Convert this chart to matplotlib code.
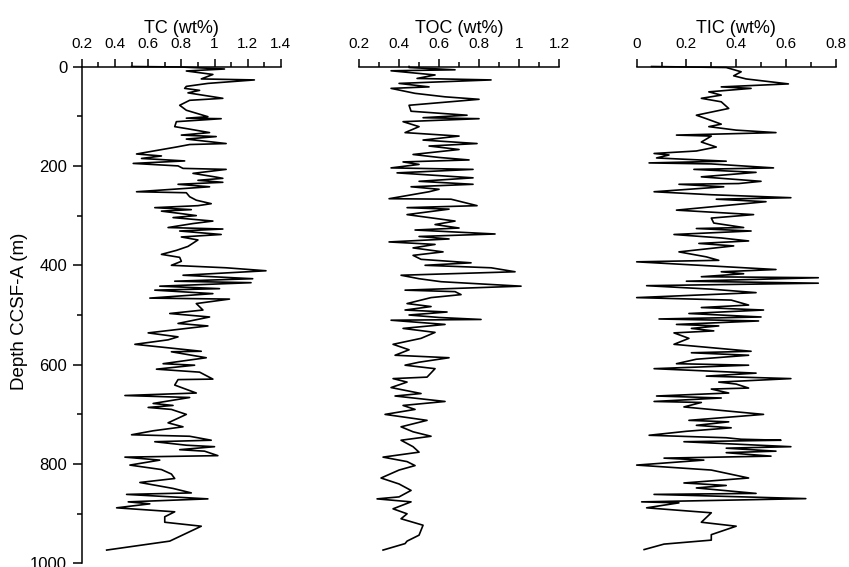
import numpy as np
import matplotlib
matplotlib.use("Agg")
import matplotlib.pyplot as plt
from matplotlib.ticker import MultipleLocator, FuncFormatter

plt.rcParams['font.family'] = ['Liberation Sans', 'DejaVu Sans']

# ---- data (depth in m, value in wt%) ----
tc_depth = [0, 1, 5, 9, 16, 25, 27, 34, 40, 44, 48, 53, 64, 68, 78, 88, 101, 104, 105, 111,
            121, 126, 133, 138, 141, 146, 155, 157, 162, 176, 180, 185, 190, 195, 200, 205, 207,
            215, 222, 225, 229, 233, 237, 242, 252, 254, 262, 269, 276, 280, 284, 288, 291, 296,
            300, 304, 311, 316, 324, 327, 331, 338, 343, 349, 362, 370, 378, 384, 392, 400, 405,
            411, 420, 427, 432, 435, 442, 447, 450, 457, 466, 468, 477, 490, 497, 504, 517, 522,
            536, 544, 550, 559, 573, 574, 586, 598, 601, 609, 615, 629, 630, 641, 657, 662, 666,
            678, 682, 686, 690, 700, 717, 725, 733, 741, 744, 752, 755, 762, 765, 771, 774, 783,
            786, 792, 802, 811, 820, 829, 837, 849, 858, 861, 870, 876, 880, 888, 896, 906, 917,
            925, 955, 973]
tc = [0.50, 0.80, 1.06, 0.83, 0.99, 0.92, 1.24, 0.96, 0.83, 0.82, 0.91, 0.84, 1.05, 0.85, 0.79,
      0.83, 0.96, 0.83, 1.04, 0.77, 0.76, 0.85, 0.97, 0.80, 1.01, 0.83, 1.07, 0.85, 0.77, 0.53,
      0.68, 0.56, 0.82, 0.51, 0.78, 0.81, 1.07, 0.87, 1.00, 1.05, 0.90, 1.05, 0.78, 0.97, 0.53,
      0.83, 0.85, 0.89, 0.98, 0.90, 0.64, 0.86, 0.68, 0.80, 0.89, 0.75, 0.99, 0.87, 0.72, 1.05,
      0.79, 1.04, 0.80, 0.90, 0.84, 0.77, 0.68, 0.79, 0.80, 0.74, 1.07, 1.31, 0.81, 1.23, 0.76,
      1.22, 0.67, 1.03, 0.64, 0.99, 0.61, 1.09, 0.89, 0.93, 0.73, 0.97, 0.78, 0.96, 0.60, 0.78,
      0.72, 0.52, 0.92, 0.74, 0.95, 0.69, 0.88, 0.65, 0.91, 0.99, 0.78, 0.76, 0.89, 0.46, 0.85,
      0.63, 0.75, 0.60, 0.74, 0.83, 0.72, 0.81, 0.63, 0.50, 0.85, 0.98, 0.64, 0.83, 1.00, 0.79,
      0.94, 1.02, 0.46, 0.67, 0.49, 0.68, 0.74, 0.76, 0.55, 0.75, 0.86, 0.47, 0.96, 0.48, 0.61,
      0.41, 0.76, 0.70, 0.70, 0.92, 0.73, 0.35]

toc_depth = [0, 2, 6.6, 8.6, 17, 24, 27, 34, 41, 44, 54, 61, 66, 78, 90, 98, 103, 105, 111, 121,
             133, 140, 148, 155, 160, 167, 177, 183, 188, 192, 197, 204, 207, 214, 224, 231, 237,
             242, 247, 252, 266, 267, 280, 284, 287, 298, 311, 318, 325, 329, 337, 342, 347, 353,
             358, 365, 373, 380, 388, 395, 400, 405, 413, 420, 427, 433, 442, 450, 453, 459, 465,
             477, 483, 490, 494, 500, 505, 509, 510.5, 519, 527, 535, 547, 559, 570, 581, 586,
             595, 601, 608, 625, 628, 635, 646, 658, 663, 674, 682, 690, 700, 712, 725, 735, 744,
             752, 765, 776, 786, 795, 803, 812, 828, 840, 853, 866, 870, 876, 890, 900, 910, 923,
             943, 955, 960, 973]
toc = [0.45, 0.45, 0.68, 0.36, 0.58, 0.49, 0.86, 0.40, 0.55, 0.36, 0.48, 0.63, 0.80, 0.45, 0.46,
       0.74, 0.52, 0.80, 0.42, 0.50, 0.43, 0.70, 0.52, 0.79, 0.55, 0.70, 0.47, 0.60, 0.75, 0.42,
       0.50, 0.36, 0.77, 0.39, 0.77, 0.50, 0.77, 0.46, 0.60, 0.55, 0.35, 0.66, 0.79, 0.44, 0.65,
       0.44, 0.68, 0.58, 0.70, 0.48, 0.88, 0.50, 0.65, 0.35, 0.58, 0.47, 0.62, 0.47, 0.51, 0.76,
       0.53, 0.86, 0.98, 0.41, 0.50, 0.61, 1.01, 0.43, 0.68, 0.71, 0.56, 0.44, 0.56, 0.43, 0.64,
       0.45, 0.60, 0.81, 0.36, 0.63, 0.42, 0.58, 0.51, 0.37, 0.45, 0.38, 0.65, 0.50, 0.43, 0.58,
       0.54, 0.37, 0.44, 0.36, 0.51, 0.38, 0.63, 0.42, 0.48, 0.33, 0.54, 0.41, 0.47, 0.56, 0.41,
       0.47, 0.50, 0.32, 0.44, 0.48, 0.40, 0.31, 0.40, 0.46, 0.40, 0.29, 0.46, 0.37, 0.44, 0.41,
       0.52, 0.50, 0.44, 0.43, 0.32]

tic_depth = [0, 2, 10.6, 18.7, 25, 35, 41, 44, 51, 57.6, 64, 71, 84.4, 98, 105, 116, 121, 128,
             133, 138, 140, 152, 162, 170, 175, 178, 184, 190.5, 194, 196, 204, 207, 213, 222,
             231, 235.5, 237, 242, 252, 258, 264, 267, 272, 289, 298, 305, 315, 324, 326, 331,
             338, 345, 351, 356, 361, 373, 383, 390, 393, 400, 408.5, 413, 417, 423, 425, 432,
             436, 441, 448, 455, 465, 470, 480, 485, 490, 497, 504, 508, 512, 519, 522, 527, 532,
             536, 547, 559, 573, 576, 581, 589, 598, 601, 608, 617, 623, 628, 635, 639, 647, 649,
             657, 663, 667, 674, 676, 685, 700, 712, 715, 722, 727, 734, 742, 747, 750, 752, 755,
             765, 768, 774, 777, 784, 788, 792, 802, 812, 828, 838, 843, 848, 853, 859, 861,
             869.5, 876, 878, 888, 898, 917, 925, 942, 953, 961, 972]
tic = [0.06, 0.36, 0.42, 0.39, 0.44, 0.61, 0.34, 0.46, 0.29, 0.34, 0.26, 0.34, 0.37, 0.24, 0.28,
       0.34, 0.29, 0.40, 0.56, 0.16, 0.30, 0.26, 0.32, 0.24, 0.07, 0.13, 0.08, 0.36, 0.05, 0.30,
       0.55, 0.23, 0.48, 0.26, 0.50, 0.41, 0.17, 0.35, 0.07, 0.30, 0.62, 0.32, 0.52, 0.16, 0.47,
       0.30, 0.31, 0.43, 0.24, 0.46, 0.15, 0.34, 0.45, 0.25, 0.39, 0.17, 0.28, 0.33, 0.00, 0.25,
       0.56, 0.34, 0.43, 0.26, 0.73, 0.20, 0.73, 0.04, 0.30, 0.48, 0.00, 0.38, 0.45, 0.26, 0.51,
       0.21, 0.50, 0.09, 0.49, 0.16, 0.33, 0.22, 0.31, 0.15, 0.21, 0.15, 0.46, 0.22, 0.45, 0.24,
       0.16, 0.45, 0.07, 0.48, 0.28, 0.62, 0.33, 0.40, 0.45, 0.30, 0.37, 0.08, 0.34, 0.07, 0.26,
       0.19, 0.51, 0.21, 0.37, 0.24, 0.38, 0.20, 0.05, 0.36, 0.42, 0.58, 0.19, 0.62, 0.36, 0.56,
       0.36, 0.54, 0.11, 0.27, 0.00, 0.30, 0.45, 0.19, 0.36, 0.24, 0.35, 0.48, 0.07, 0.68, 0.02,
       0.17, 0.04, 0.30, 0.26, 0.40, 0.30, 0.30, 0.11, 0.03]

titles = ["TC (wt%)", "TOC (wt%)", "TIC (wt%)"]
xlims = [(0.2, 1.4), (0.2, 1.2), (0.0, 0.8)]
ylabel = "Depth CCSF-A (m)"

# ---- layout ----
fig = plt.figure(figsize=(8.49, 5.67), dpi=100)
bottom, height = 0.0062, 0.8765
lefts = [0.0963, 0.4229, 0.7499]
widths = [0.2346, 0.2356, 0.2344]

series = [(tc, tc_depth), (toc, toc_depth), (tic, tic_depth)]
fmt = FuncFormatter(lambda v, p: "%g" % round(v, 3))

for i, (vals, dep) in enumerate(series):
    ax = fig.add_axes([lefts[i], bottom, widths[i], height])
    ax.plot(vals, dep, color='black', lw=1.2, clip_on=False)
    ax.set_xlim(*xlims[i])
    ax.set_ylim(1000, 0)

    for s in ['right', 'bottom']:
        ax.spines[s].set_visible(False)
    ax.spines['top'].set_linewidth(1.1)
    ax.spines['left'].set_linewidth(1.1)

    ax.xaxis.tick_top()
    ax.xaxis.set_label_position('top')
    ax.xaxis.set_major_locator(MultipleLocator(0.2))
    ax.xaxis.set_minor_locator(MultipleLocator(0.1))
    ax.xaxis.set_major_formatter(fmt)
    ax.tick_params(axis='x', which='major', length=6, width=1.1, pad=5, labelsize=11)
    ax.tick_params(axis='x', which='minor', length=3.5, width=1.1)
    ax.set_xlabel(titles[i], fontsize=13, labelpad=3)

    if i == 0:
        ax.yaxis.set_major_locator(MultipleLocator(200))
        ax.yaxis.set_minor_locator(MultipleLocator(100))
        ax.tick_params(axis='y', which='major', length=6.5, width=1.1, pad=4, labelsize=12)
        ax.tick_params(axis='y', which='minor', length=3.5, width=1.1)
    else:
        ax.spines['left'].set_visible(False)
        ax.set_yticks([])
    ax.patch.set_visible(False)

fig.text(20 / 849, 1 - 311 / 567, ylabel, rotation=90, ha='center', va='center', fontsize=13.5)

plt.savefig("out.png", dpi=100)
plt.close()
